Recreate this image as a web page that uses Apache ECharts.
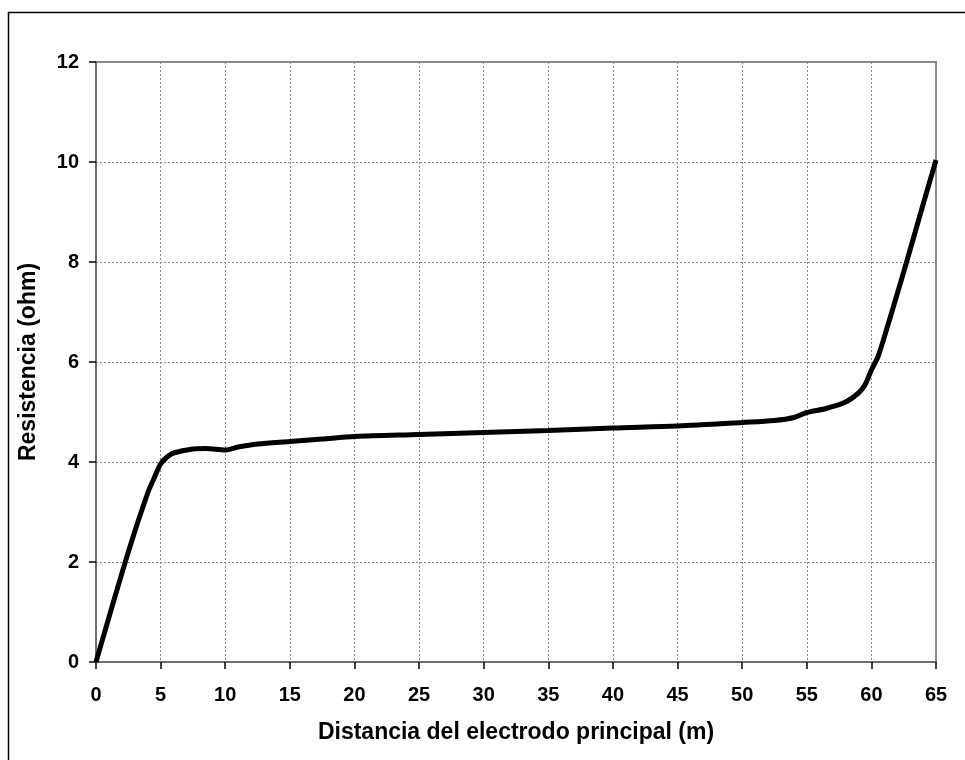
<!DOCTYPE html>
<html>
<head>
<meta charset="utf-8">
<script src="https://cdn.jsdelivr.net/npm/echarts@6/dist/echarts.min.js"></script>
<style>
  html, body { margin: 0; padding: 0; background: #fff; }
  #chart { width: 965px; height: 760px; }
</style>
</head>
<body>
<div id="chart"></div>
<script>
// distancia (m) y resistencia (ohm)
const distancia = [0, 2.5, 4, 4.5, 5, 5.5, 6, 7.5, 8.5, 10, 11, 12.5, 15, 17.5, 20, 25, 30, 35, 40, 45, 50, 52.5, 54, 55, 56.5, 58, 59, 59.5, 60, 60.5, 61, 62.5, 64, 65];
const resistencia = [0, 2.2, 3.38, 3.68, 3.96, 4.1, 4.18, 4.26, 4.27, 4.24, 4.3, 4.36, 4.41, 4.46, 4.51, 4.55, 4.59, 4.63, 4.68, 4.72, 4.79, 4.83, 4.89, 4.99, 5.07, 5.2, 5.38, 5.54, 5.84, 6.1, 6.5, 7.8, 9.15, 10.04];

const xTicks = [0, 65, 5];   // min, max, interval
const yTicks = [0, 12, 2];

const chart = echarts.init(document.getElementById('chart'));

const labelFont = {
  fontFamily: 'Liberation Sans, Arial, sans-serif',
  fontWeight: 'bold',
  fontSize: 20,
  color: '#000'
};
const titleFont = Object.assign({}, labelFont, { fontSize: 23 });

chart.setOption({
  animation: false,
  backgroundColor: '#fff',
  graphic: [{
    type: 'rect',
    shape: { x: 8.5, y: 12.5, width: 1000, height: 1000 },
    style: { fill: 'none', stroke: '#000', lineWidth: 1.5 },
    silent: true
  }],
  grid: {
    left: 96, right: 29, top: 62, bottom: 98,
    show: true, borderColor: '#8c8c8c', borderWidth: 2
  },
  xAxis: {
    type: 'value',
    min: xTicks[0], max: xTicks[1], interval: xTicks[2],
    name: 'Distancia del electrodo principal (m)',
    nameLocation: 'middle',
    nameGap: 59,
    nameTextStyle: titleFont,
    axisLine: { lineStyle: { color: '#6e6e6e', width: 2 } },
    axisTick: { show: true, length: 7, lineStyle: { color: '#000', width: 1.5 } },
    axisLabel: Object.assign({ margin: 23 }, labelFont),
    splitLine: { show: true, lineStyle: { color: '#8a8a8a', type: [2, 2], width: 1 } }
  },
  yAxis: {
    type: 'value',
    min: yTicks[0], max: yTicks[1], interval: yTicks[2],
    name: 'Resistencia (ohm)',
    nameLocation: 'middle',
    nameGap: 56,
    nameTextStyle: titleFont,
    axisLine: { show: true, lineStyle: { color: '#6e6e6e', width: 2 } },
    axisTick: { show: true, length: 7, lineStyle: { color: '#000', width: 1.5 } },
    axisLabel: Object.assign({ margin: 17 }, labelFont),
    splitLine: { show: true, lineStyle: { color: '#8a8a8a', type: [2, 2], width: 1 } }
  },
  series: [{
    type: 'line',
    data: distancia.map((d, i) => [d, resistencia[i]]),
    smooth: 0.3,
    showSymbol: false,
    lineStyle: { color: '#000', width: 5 }
  }]
});
</script>
</body>
</html>
